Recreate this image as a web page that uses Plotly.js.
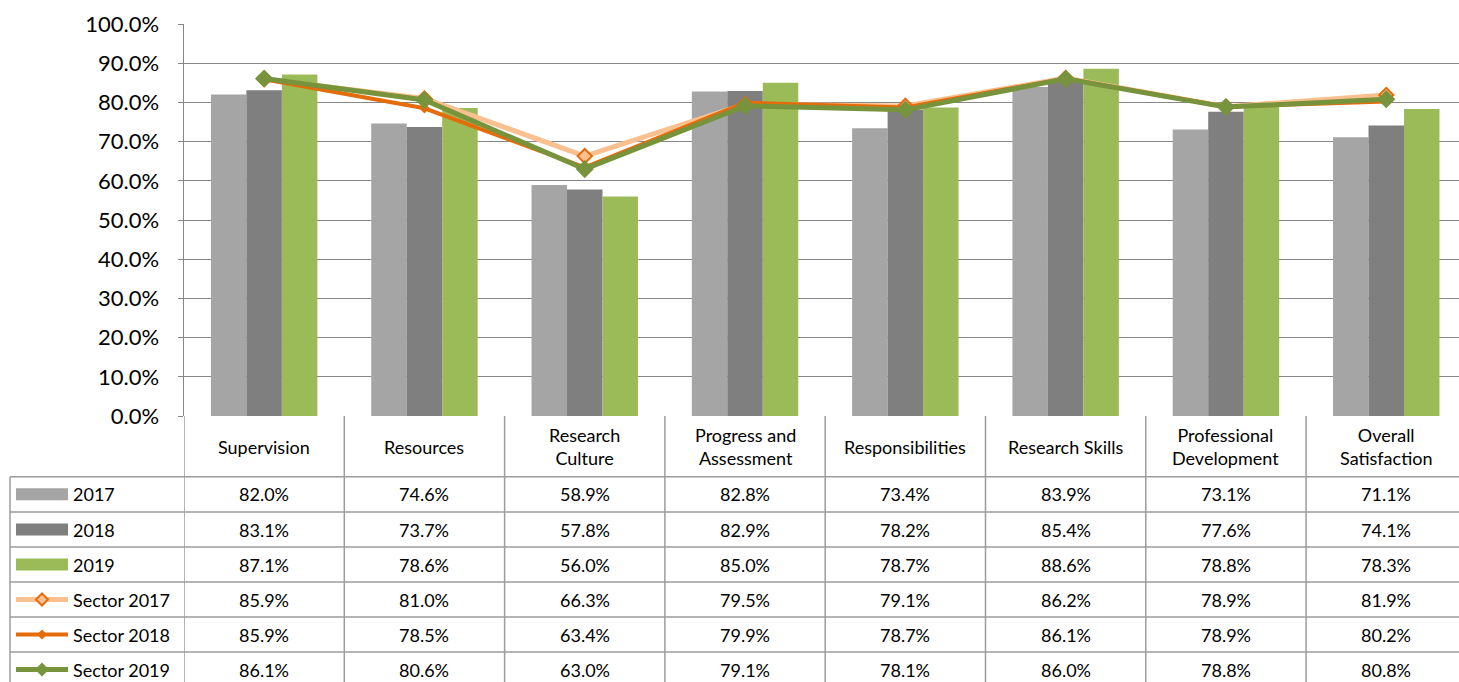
<!DOCTYPE html>
<html>
<head>
<meta charset="utf-8">
<script src="https://cdn.plot.ly/plotly-3.0.1.min.js"></script>
<style>html,body{margin:0;padding:0;background:#fff;}#chart{width:1459px;height:682px;}</style>
</head>
<body>
<div id="chart"></div>
<script>
// ---- data ----
var categories = ["Supervision","Resources","Research Culture","Progress and Assessment","Responsibilities","Research Skills","Professional Development","Overall Satisfaction"];
var categoryLabels = ["Supervision","Resources","Research<br>Culture","Progress and<br>Assessment","Responsibilities","Research Skills","Professional<br>Development","Overall<br>Satisfaction"];
var seriesNames = ["2017","2018","2019","Sector 2017","Sector 2018","Sector 2019"];
var v2017 = [82.0, 74.6, 58.9, 82.8, 73.4, 83.9, 73.1, 71.1];
var v2018 = [83.1, 73.7, 57.8, 82.9, 78.2, 85.4, 77.6, 74.1];
var v2019 = [87.1, 78.6, 56.0, 85.0, 78.7, 88.6, 78.8, 78.3];
var sector2017 = [85.9, 81.0, 66.3, 79.5, 79.1, 86.2, 78.9, 81.9];
var sector2018 = [85.9, 78.5, 63.4, 79.9, 78.7, 86.1, 78.9, 80.2];
var sector2019 = [86.1, 80.6, 63.0, 79.1, 78.1, 86.0, 78.8, 80.8];
var yTicks = [0,10,20,30,40,50,60,70,80,90,100];

var allSeries = [v2017, v2018, v2019, sector2017, sector2018, sector2019];
var colors = ["#A5A5A5","#7F7F7F","#9BBB59","#FAC090","#E46C0A","#77933C"];

// ---- geometry helpers (pixel -> paper) ----
var PL = 184, PT = 24, PW = 1459 - 184, PH = 392, PB = PT + PH;
function xp(px){ return (px - PL) / PW; }
function yp(py){ return (PB - py) / PH; }
var FONT = "Lato, 'Open Sans', sans-serif";
var TF = 18;
var idx = categories.map(function(_, i){ return i; });

var traces = [];
for (var b = 0; b < 3; b++) {
  traces.push({type:"bar", x: idx, y: allSeries[b], name: seriesNames[b],
    marker:{color: colors[b]}, hoverinfo:"y"});
}
traces.push({type:"scatter", mode:"lines+markers", x: idx, y: sector2017, name: seriesNames[3],
  line:{color:"#FAC090", width:5}, marker:{symbol:"diamond", size:11, color:"#FAC090", line:{color:"#E46C0A", width:2}}});
traces.push({type:"scatter", mode:"lines+markers", x: idx, y: sector2018, name: seriesNames[4],
  line:{color:"#E46C0A", width:4}, marker:{symbol:"diamond", size:8, color:"#E46C0A"}});
traces.push({type:"scatter", mode:"lines+markers", x: idx, y: sector2019, name: seriesNames[5],
  line:{color:"#77933C", width:5}, marker:{symbol:"diamond", size:14, color:"#77933C"}});

// ---- table ----
var rowBounds = [476.7, 512, 547, 582, 617, 652, 687];
var rowCenters = [];
for (var r = 0; r < 6; r++) rowCenters.push((rowBounds[r] + rowBounds[r+1]) / 2);
var LC = "#9c9c9c";
var shapes = [];
rowBounds.slice(0, 6).forEach(function(py){
  shapes.push({type:"line", xref:"paper", yref:"paper", x0: xp(10), x1: 1, y0: yp(py), y1: yp(py), line:{color:LC, width:1.5}});
});
for (var i = 0; i <= categories.length; i++) {
  shapes.push({type:"line", xref:"x", yref:"paper", x0: i - 0.5, x1: i - 0.5, y0: yp(416), y1: yp(690), line:{color:LC, width:1.5}});
}
shapes.push({type:"line", xref:"paper", yref:"paper", x0: xp(10), x1: xp(10), y0: yp(476.7), y1: yp(690), line:{color:LC, width:1.5}});

// legend keys
for (var r = 0; r < 6; r++) {
  var cy = rowCenters[r];
  if (r < 3) {
    shapes.push({type:"rect", xref:"paper", yref:"paper", x0: xp(16), x1: xp(68), y0: yp(cy - 6), y1: yp(cy + 6), line:{width:0}, fillcolor: colors[r]});
  } else {
    var lw = r === 4 ? 4 : 5;
    shapes.push({type:"line", xref:"paper", yref:"paper", x0: xp(16), x1: xp(68), y0: yp(cy), y1: yp(cy), line:{color: colors[r], width: lw}});
    var d = r === 3 ? 6 : (r === 4 ? 5 : 7);
    var fill = colors[r];
    var bord = r === 3 ? "#E46C0A" : colors[r];
    shapes.push({type:"path", xref:"paper", yref:"paper", xsizemode:"pixel", ysizemode:"pixel",
      xanchor: xp(42), yanchor: yp(cy),
      path: "M " + (-d) + " 0 L 0 " + d + " L " + d + " 0 L 0 " + (-d) + " Z",
      fillcolor: fill, line:{color: bord, width: r === 3 ? 2 : 0}});
  }
}

var annotations = [];
categoryLabels.forEach(function(lab, i){
  annotations.push({xref:"x", yref:"paper", x: i, y: yp(446.5), text: lab, showarrow:false,
    xanchor:"center", yanchor:"middle", font:{family:FONT, size:TF, color:"#000"}});
});
for (var r = 0; r < 6; r++) {
  annotations.push({xref:"paper", yref:"paper", x: xp(71), y: yp(rowCenters[r]), text: seriesNames[r], showarrow:false,
    xanchor:"left", yanchor:"middle", font:{family:FONT, size:TF, color:"#000"}});
  allSeries[r].forEach(function(v, i){
    annotations.push({xref:"x", yref:"paper", x: i, y: yp(rowCenters[r]), text: v.toFixed(1) + "%", showarrow:false,
      xanchor:"center", yanchor:"middle", font:{family:FONT, size:TF, color:"#000"}});
  });
}

var layout = {
  width:1459, height:682,
  margin:{l:PL, r:0, t:PT, b:682 - PB, pad:0},
  paper_bgcolor:"#fff", plot_bgcolor:"#fff",
  barmode:"group", bargap:0.336, bargroupgap:0,
  showlegend:false,
  font:{family:FONT, color:"#000"},
  xaxis:{type:"linear", range:[-0.5, -0.5 + PW / 160.3], showticklabels:false, showgrid:false, zeroline:false, showline:false, ticks:"", fixedrange:true},
  yaxis:{range:[0,100], tickvals: yTicks, ticktext: yTicks.map(function(t){ return t.toFixed(1) + "%"; }),
    showgrid:true, gridcolor:"#878787", gridwidth:1, zeroline:false,
    showline:true, linecolor:"#878787", linewidth:1.5, ticks:"outside", ticklen:5, tickcolor:"#878787",
    ticklabelstandoff:14, tickfont:{family:FONT, size:22, color:"#000"}, fixedrange:true},
  shapes: shapes,
  annotations: annotations
};

Plotly.newPlot("chart", traces, layout, {displayModeBar:false, staticPlot:true});
</script>
</body>
</html>
